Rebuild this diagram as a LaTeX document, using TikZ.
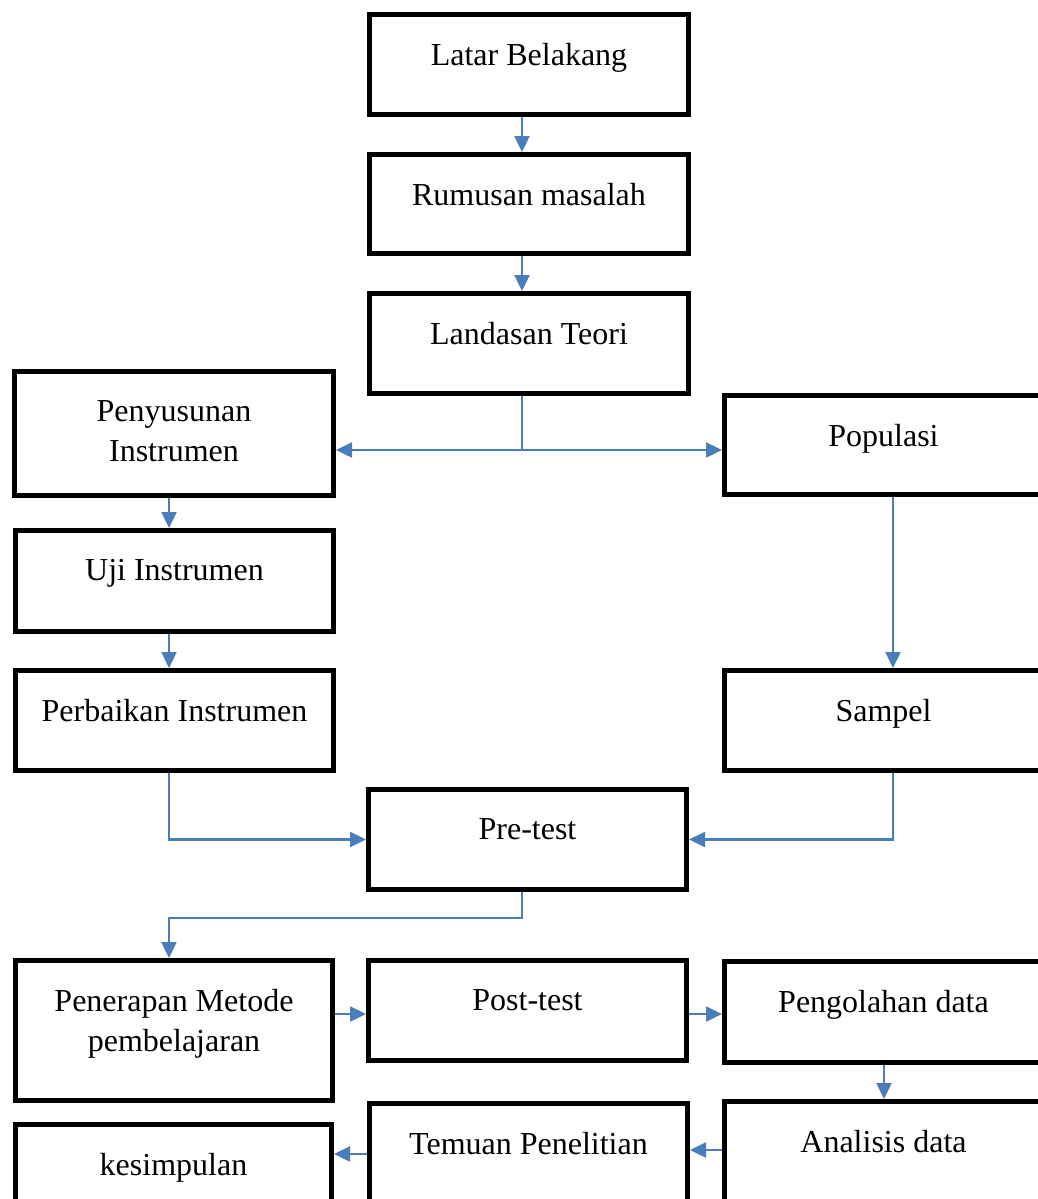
\documentclass[tikz,border=0pt]{standalone}
\usepackage{fontspec}
\setmainfont{Liberation Serif}
\usetikzlibrary{arrows.meta}
\definecolor{wordblue}{RGB}{74,126,187}
\tikzset{
  box/.style={draw=black, line width=5pt, outer sep=2.5pt, rectangle, inner sep=0pt, fill=white},
  txt/.style={anchor=north, inner sep=0pt, yshift=-31pt, align=center, font=\fontsize{32}{40}\selectfont},
  conn/.style={draw=wordblue, line width=2.4pt, -{Triangle[length=16pt,width=15pt]}},
  plain/.style={draw=wordblue, line width=2.4pt},
}
% box at outer edges L,T,R,B
\newcommand{\mybox}[6]{%
  \pgfmathsetmacro{\bw}{#4-#2-5}\pgfmathsetmacro{\bh}{#5-#3-5}%
  \node[box, minimum width=\bw pt, minimum height=\bh pt, label={[txt]north:#6}] (#1) at ({(#2+#4)/2},{(#3+#5)/2}) {};}
\begin{document}
\begin{tikzpicture}[x=1pt,y=-1pt]
\useasboundingbox (0,0) rectangle (1038,1199);
\mybox{lb}{367}{12}{691}{117}{Latar Belakang}
\mybox{rm}{367}{152}{691}{256}{Rumusan masalah}
\mybox{lt}{367}{291}{691}{396}{Landasan Teori}
\mybox{ps}{12}{369}{336}{498}{Penyusunan\\Instrumen}
\mybox{pop}{722}{393}{1045}{497}{Populasi}
\mybox{uji}{13}{528}{336}{634}{Uji Instrumen}
\mybox{pb}{13}{668}{336}{773}{Perbaikan Instrumen}
\mybox{smp}{722}{668}{1045}{773}{Sampel}
\mybox{pre}{366}{787}{689}{892}{Pre-test}
\mybox{pen}{13}{958}{335}{1103}{Penerapan Metode\\pembelajaran}
\mybox{post}{366}{958}{689}{1063}{Post-test}
\mybox{peng}{722}{959}{1045}{1065}{Pengolahan data}
\mybox{ana}{722}{1099}{1045}{1260}{Analisis data}
\mybox{tem}{367}{1101}{690}{1260}{Temuan Penelitian}
\mybox{kes}{13}{1122}{334}{1260}{kesimpulan}
% guide coordinates
\coordinate (xm) at (522,0);
\coordinate (xl) at (169,0);
\coordinate (xr) at (893,0);
\coordinate (xp) at (884,0);
\coordinate (split) at (522,450);
\coordinate (bend) at (522,918);
\coordinate (row1) at (0,1014);
\coordinate (row2) at (0,1150);
\coordinate (row3) at (0,1154);
% connectors
\draw[conn] (lb.south -| xm) -- (rm.north -| xm);
\draw[conn] (rm.south -| xm) -- (lt.north -| xm);
\draw[plain] (lt.south -| xm) -- (split);
\draw[conn] (split) -- (split -| ps.east);
\draw[conn] (split) -- (split -| pop.west);
\draw[conn] (ps.south -| xl) -- (uji.north -| xl);
\draw[conn] (uji.south -| xl) -- (pb.north -| xl);
\draw[conn] (pop.south -| xr) -- (smp.north -| xr);
\draw[conn] (pb.south -| xl) |- (pre.west);
\draw[conn] (smp.south -| xr) |- (pre.east);
\draw[conn] (pre.south -| xm) -- (bend) -| (pen.north -| xl);
\draw[conn] (pen.east |- row1) -- (post.west |- row1);
\draw[conn] (post.east |- row1) -- (peng.west |- row1);
\draw[conn] (peng.south -| xp) -- (ana.north -| xp);
\draw[conn] (ana.west |- row2) -- (tem.east |- row2);
\draw[conn] (tem.west |- row3) -- (kes.east |- row3);
\end{tikzpicture}
\end{document}
